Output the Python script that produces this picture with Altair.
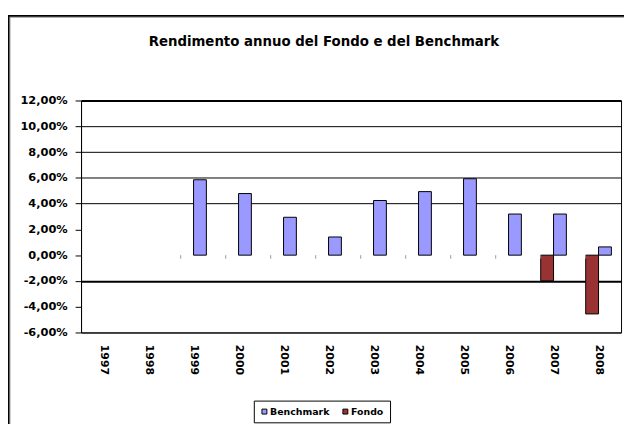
import altair as alt
import pandas as pd

years = [str(y) for y in range(1997, 2009)]
bench_years = ["1999", "2000", "2001", "2002", "2003", "2004", "2005", "2006", "2007", "2008"]
bench_vals = [5.85, 4.78, 2.94, 1.41, 4.24, 4.93, 5.93, 3.19, 3.19, 0.64]
fondo_years = ["2007", "2008"]
fondo_vals = [-1.99, -4.56]
y_ticks = [-6, -4, -2, 0, 2, 4, 6, 8, 10, 12]
zero_tick_years = bench_years
title_text = ["Rendimento annuo del Fondo e del Benchmark"]

FONT = "DejaVu Sans"

rows = [{"year": y, "series": "Benchmark", "value": v} for y, v in zip(bench_years, bench_vals)]
rows += [{"year": y, "series": "Fondo", "value": v} for y, v in zip(fondo_years, fondo_vals)]
df = pd.DataFrame(rows)

x_scale = alt.Scale(domain=years, paddingInner=0.43, paddingOuter=0.215)
y_scale = alt.Scale(domain=[-6, 12], nice=False, zero=False)

y_label_expr = "(datum.value < 0 ? '-' : '') + replace(format(abs(datum.value), '.2f'), '.', ',') + '%'"

x_axis = alt.Axis(
    labelAngle=90,
    labelFont=FONT,
    labelFontSize=11,
    labelFontWeight="bold",
    labelColor="black",
    labelPadding=12,
    labelOverlap=False,
    ticks=False,
    domain=False,
)
y_axis = alt.Axis(
    values=y_ticks,
    tickCount=30,
    labelExpr=y_label_expr,
    labelFont=FONT,
    labelFontSize=11.5,
    labelFontWeight="bold",
    labelColor="black",
    labelPadding=8,
    labelOverlap=False,
    labelBound=False,
    labelFlush=False,
    tickSize=6,
    tickColor="black",
    domainColor="black",
    grid=True,
    gridColor="black",
    gridWidth=alt.condition("datum.value == -2 || datum.value == 12", alt.value(2), alt.value(1)),
    gridOpacity=alt.condition(
        "datum.value == 0 || datum.value == 2 || datum.value == -4", alt.value(0), alt.value(1)
    ),
)

zero_ticks = alt.Chart(pd.DataFrame({"year": zero_tick_years})).mark_rule(color="#999999", strokeWidth=1).encode(
    x=alt.X("year:N", scale=x_scale, bandPosition=0, axis=x_axis, title=None),
    y=alt.datum(0),
    y2=alt.datum(-0.28),
)

bars = alt.Chart(df).mark_bar(stroke="black", strokeWidth=1).encode(
    x=alt.X("year:N", scale=x_scale, title=None, axis=x_axis),
    xOffset=alt.XOffset(
        "series:N", scale=alt.Scale(domain=["Fondo", "Benchmark"], paddingInner=0, paddingOuter=0)
    ),
    y=alt.Y("value:Q", scale=y_scale, title=None, axis=y_axis),
    color=alt.Color(
        "series:N",
        scale=alt.Scale(domain=["Benchmark", "Fondo"], range=["#9999FF", "#993333"]),
        legend=alt.Legend(
            title=None,
            orient="none",
            legendX=175,
            legendY=304,
            direction="horizontal",
            strokeColor="black",
            fillColor="white",
            padding=6,
            symbolType="square",
            symbolSize=25,
            symbolStrokeColor="black",
            symbolStrokeWidth=1,
            labelFont=FONT,
            labelFontSize=9.5,
            labelFontWeight="bold",
            labelColor="black",
            labelOffset=1,
            columnPadding=11,
        ),
    ),
)

title = alt.Chart(pd.DataFrame({"t": title_text})).mark_text(
    font=FONT, fontSize=13.5, fontWeight="bold", color="black", align="center", baseline="alphabetic"
).encode(text="t:N", x=alt.value(246), y=alt.value(-55))

frame_df = pd.DataFrame({"k": [0]})
frame_left = alt.Chart(frame_df).mark_rule(color="black", strokeWidth=2).encode(
    x=alt.value(-73.5), y=alt.value(-86), y2=alt.value(330)
)
frame_left_g = alt.Chart(frame_df).mark_rule(color="#999999", strokeWidth=1).encode(
    x=alt.value(-72), y=alt.value(-85), y2=alt.value(330)
)
frame_top = alt.Chart(frame_df).mark_rule(color="black", strokeWidth=1.6).encode(
    x=alt.value(-74), x2=alt.value(560), y=alt.value(-85.7)
)
frame_top_g = alt.Chart(frame_df).mark_rule(color="#999999", strokeWidth=1).encode(
    x=alt.value(-72), x2=alt.value(560), y=alt.value(-84.3)
)

chart = alt.layer(
    bars, zero_ticks, title, frame_left_g, frame_left, frame_top_g, frame_top
).properties(
    width=547,
    height=235,
    autosize=alt.AutoSizeParams(type="none"),
    padding={"left": 74, "top": 91, "right": 3, "bottom": 90},
    background="white",
).configure_view(stroke="black", strokeWidth=1)

chart.save("out.html", embed_options={"renderer": "svg", "actions": False})
